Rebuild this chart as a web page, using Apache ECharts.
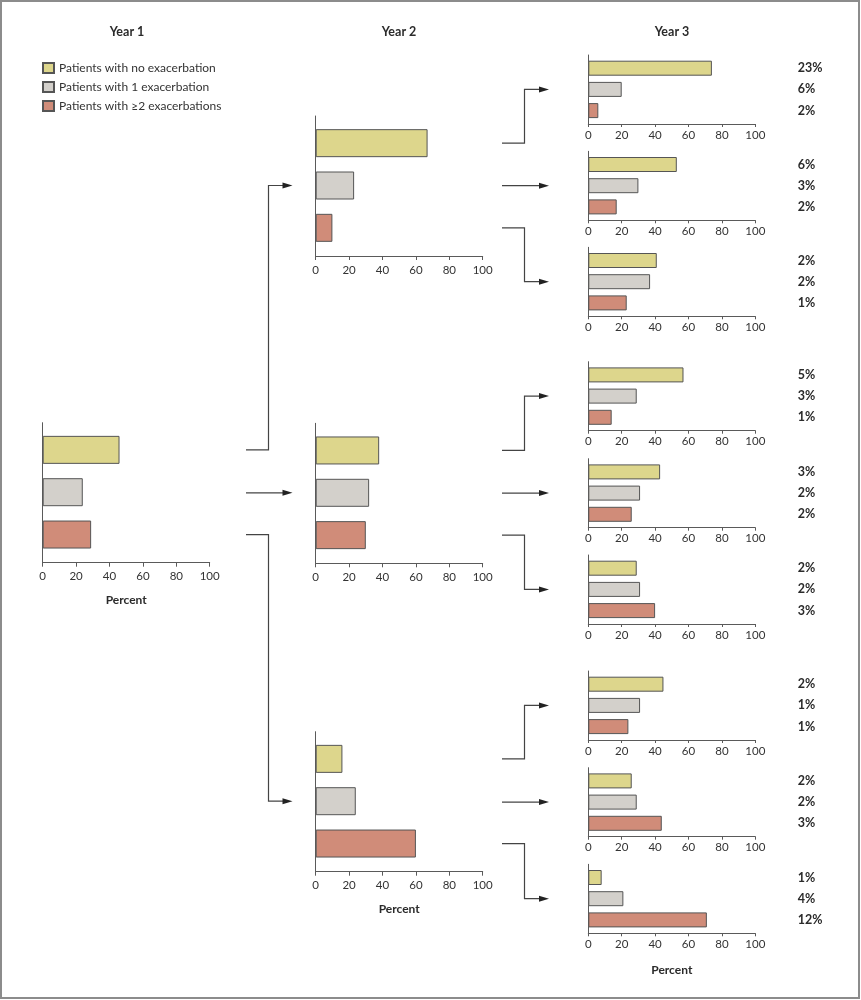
<!DOCTYPE html>
<html>
<head>
<meta charset="utf-8">
<script src="https://cdn.jsdelivr.net/npm/echarts@6/dist/echarts.min.js"></script>
<style>
html,body{margin:0;padding:0;background:#fff;}
#c{width:861px;height:1000px;}
</style>
</head>
<body>
<div id="c"></div>
<script>
// ---------------- DATA ----------------
const categories = ['Patients with no exacerbation', 'Patients with 1 exacerbation', 'Patients with \u22652 exacerbations'];
const yearTitles = ['Year 1', 'Year 2', 'Year 3'];
const axisTitle = 'Percent';
const xTickMax = 100;
const xTickStep = 20;

const year1Values = [46, 24, 29];

const year2Values = [
  [67, 23, 10],
  [38, 32, 30],
  [16, 24, 60]
];

const year3Values = [
  [74, 20, 6],
  [53, 30, 17],
  [41, 37, 23],
  [57, 29, 14],
  [43, 31, 26],
  [29, 31, 40],
  [45, 31, 24],
  [26, 29, 44],
  [8, 21, 71]
];

const year3Shares = [
  ['23%', '6%', '2%'],
  ['6%', '3%', '2%'],
  ['2%', '2%', '1%'],
  ['5%', '3%', '1%'],
  ['3%', '2%', '2%'],
  ['2%', '2%', '3%'],
  ['2%', '1%', '1%'],
  ['2%', '2%', '3%'],
  ['1%', '4%', '12%']
];

// ---------------- STYLE / LAYOUT ----------------
const FONT = 'Lato, "Open Sans", "Noto Sans", sans-serif';
const fills = ['#ddd68c', '#d3d0cb', '#d08c79'];
const barBorder = '#555555';
const axisColor = '#5a5a5a';
const textColor = '#2b2b2b';

const PANEL_W = 167;
const panels = [];
panels.push({ left: 42.7, axisY: 562.7, big: true, values: year1Values, percent: true });
const y2AxisY = [256, 563.3, 871.7];
year2Values.forEach((v, i) => panels.push({ left: 315.7, axisY: y2AxisY[i], big: true, values: v, percent: i === 2 }));
const y3AxisY = [124, 220.3, 316.3, 430.7, 527.7, 624, 740, 836.7, 933.3];
year3Values.forEach((v, i) => panels.push({ left: 588.3, axisY: y3AxisY[i], big: false, values: v, shares: year3Shares[i], percent: i === 8 }));

function geom(p) {
  if (p.big) return { axisTop: p.axisY - 140, axisH: 140, bandTop: p.axisY - 134, bandH: 127, barW: 28, labelMargin: 8, tick: 4 };
  return { axisTop: p.axisY - 69, axisH: 69, bandTop: p.axisY - 66.4, bandH: 63.6, barW: 15, labelMargin: 5, tick: 3 };
}
function rowCenter(p, j) {
  const g = geom(p);
  return g.bandTop + g.bandH / 3 * (j + 0.5);
}

const grid = [], xAxis = [], yAxis = [], series = [];

panels.forEach((p, k) => {
  const g = geom(p);
  // axis grid (draws axis lines, ticks, labels)
  const ag = grid.length;
  grid.push({ left: p.left, top: g.axisTop, width: PANEL_W, height: g.axisH, containLabel: false });
  xAxis.push({
    gridIndex: ag, type: 'value', min: 0, max: xTickMax, interval: xTickStep,
    axisLine: { show: true, onZero: false, lineStyle: { color: axisColor, width: 1 } },
    axisTick: { show: true, length: g.tick, lineStyle: { color: axisColor, width: 1 } },
    axisLabel: { show: true, margin: g.labelMargin, fontSize: 11.5, color: '#333', fontFamily: FONT },
    splitLine: { show: false },
    name: p.percent ? axisTitle : '',
    nameLocation: 'middle', nameGap: 31,
    nameTextStyle: { fontSize: 12, fontWeight: 'bold', color: textColor, fontFamily: FONT }
  });
  yAxis.push({
    gridIndex: ag, type: 'value', min: 0, max: 1,
    axisLine: { show: true, onZero: false, lineStyle: { color: axisColor, width: 1 } },
    axisTick: { show: false }, axisLabel: { show: false }, splitLine: { show: false }
  });
  // band grid (holds the bars)
  const bg = grid.length;
  grid.push({ left: p.left, top: g.bandTop, width: PANEL_W, height: g.bandH, containLabel: false });
  const bx = xAxis.length;
  xAxis.push({ gridIndex: bg, type: 'value', min: 0, max: xTickMax, show: false });
  const by = yAxis.length;
  yAxis.push({ gridIndex: bg, type: 'category', data: categories, inverse: true, show: false });
  if (p.shares) {
    yAxis.push({
      gridIndex: bg, type: 'category', data: p.shares, inverse: true, position: 'right',
      axisLine: { show: false }, axisTick: { show: false }, splitLine: { show: false },
      axisLabel: { show: true, margin: 42.4, align: 'left', fontSize: 12.5, fontWeight: 'bold', color: textColor, fontFamily: FONT }
    });
  }
  categories.forEach((c, j) => {
    series.push({
      type: 'bar', name: c, xAxisIndex: bx, yAxisIndex: by,
      data: categories.map((_, q) => (q === j ? p.values[j] : null)),
      barWidth: g.barW, barGap: '-100%',
      itemStyle: { color: fills[j], borderColor: barBorder, borderWidth: 1 },
      silent: true, animation: false
    });
  });
});

// ---------------- GRAPHICS: frame, titles, connectors ----------------
const graphics = [];
graphics.push({ type: 'rect', shape: { x: 1, y: 1, width: 858, height: 997 }, style: { fill: 'none', stroke: '#8c8c8c', lineWidth: 2 }, silent: true });
const titleX = [127, 399, 672];
yearTitles.forEach((t, i) => graphics.push({
  type: 'text', x: titleX[i], y: 31.5,
  style: { text: t, fill: textColor, font: 'bold 12.5px ' + FONT, textAlign: 'center', textVerticalAlign: 'middle' }, silent: true
}));

const lineStyle = { stroke: '#444', lineWidth: 1.2, fill: 'none' };
function connector(x0, xe, xt, ys, yt) {
  const pts = Math.abs(ys - yt) < 1 ? [[x0, yt], [xt - 8, yt]] : [[x0, ys], [xe, ys], [xe, yt], [xt - 8, yt]];
  graphics.push({ type: 'polyline', shape: { points: pts }, style: lineStyle, silent: true });
  graphics.push({ type: 'polygon', shape: { points: [[xt - 10, yt - 3], [xt, yt], [xt - 10, yt + 3]] }, style: { fill: '#222' }, silent: true });
}
// Year 1 -> Year 2
for (let j = 0; j < 3; j++) {
  connector(246, 268.5, 292.5, rowCenter(panels[0], j), rowCenter(panels[1 + j], 1));
}
// Year 2 -> Year 3
for (let i = 0; i < 3; i++) {
  for (let j = 0; j < 3; j++) {
    connector(502, 524.5, 549, rowCenter(panels[1 + i], j), rowCenter(panels[4 + i * 3 + j], 1));
  }
}

const option = {
  backgroundColor: '#ffffff',
  animation: false,
  textStyle: { fontFamily: FONT },
  legend: {
    data: categories, orient: 'vertical', left: 42, top: 62,
    itemWidth: 11, itemHeight: 10, itemGap: 7, icon: 'rect', selectedMode: false, padding: 0,
    textStyle: { fontSize: 12, color: '#333', fontFamily: FONT }
  },
  grid, xAxis, yAxis, series,
  graphic: graphics
};

const chart = echarts.init(document.getElementById('c'), null, { renderer: 'canvas' });
chart.setOption(option);
</script>
</body>
</html>
